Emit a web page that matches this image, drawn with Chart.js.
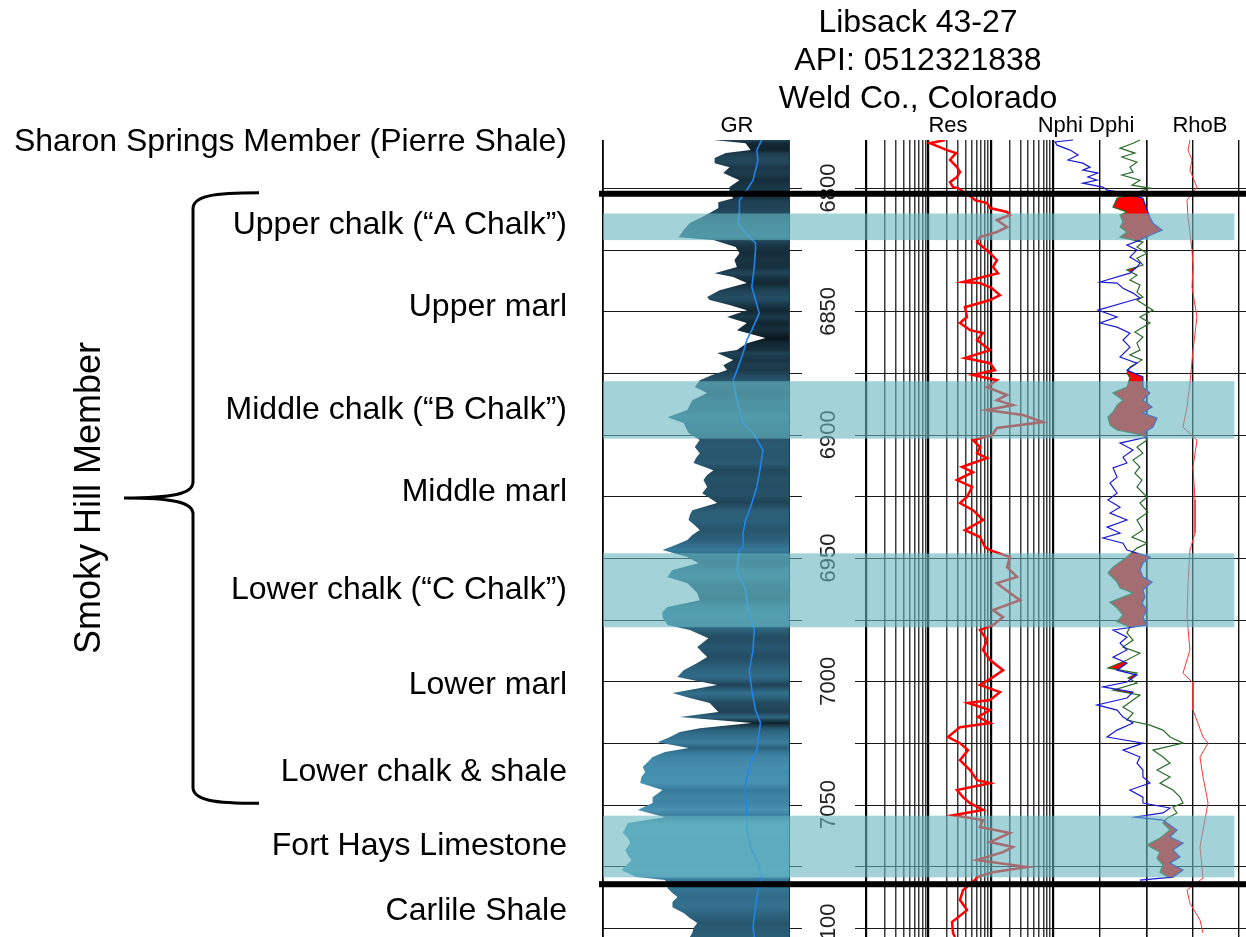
<!DOCTYPE html>
<html>
<head>
<meta charset="utf-8">
<title>Libsack 43-27 well log</title>
<script src="https://cdn.jsdelivr.net/npm/chart.js@4.4.1/dist/chart.umd.min.js"></script>
<style>
  html, body { margin: 0; padding: 0; background: #fff; }
  canvas { display: block; }
</style>
</head>
<body>
<canvas id="log" width="1246" height="937"></canvas>
<script>
// depth window (ft) and depth grid
const depthTop = 6780.5;
const depthBase = 7103.7;
const depthGrid = [6800, 6825, 6850, 6875, 6900, 6925, 6950, 6975, 7000, 7025, 7050, 7075, 7100];
const depthLabels = [6800, 6850, 6900, 6950, 7000, 7050, 7100];

// formation tops (thick lines) and chalk intervals (shaded bands)
const formationTops = [6802.3, 7082.3];
const chalkTop = [6810.3, 6878.3, 6948.1, 7054.5];
const chalkBase = [6821.1, 6901.6, 6978.1, 7079.5];

// track grid values
const grGrid = [0, 150];
const resGrid = [1, 2, 3, 4, 5, 6, 7, 8, 9, 10, 20, 30, 40, 50, 60, 70, 80, 90, 100, 200, 300, 400, 500, 600, 700, 800, 900, 1000];
const phiGrid = [0.45, 0.15, -0.15];
const rhoGrid = [1.95, 2.45, 2.95];

// gamma ray (API)
const grDepth = [6780.5, 6781.8, 6784.6, 6785.8, 6787.8, 6789.9, 6791.5, 6793.9, 6796.8, 6799.6,
  6802.0, 6804.1, 6805.7, 6808.1, 6810.1, 6812.2, 6814.2, 6817.0, 6819.9, 6821.1,
  6823.9, 6826.4, 6829.2, 6832.0, 6834.5, 6836.1, 6838.5, 6841.4, 6844.2, 6845.4,
  6847.4, 6849.5, 6852.3, 6854.7, 6857.6, 6860.8, 6862.9, 6865.7, 6866.9, 6869.7,
  6871.8, 6873.8, 6875.8, 6877.9, 6880.7, 6883.1, 6886.0, 6888.0, 6890.0, 6892.9,
  6895.3, 6897.3, 6899.3, 6902.2, 6905.0, 6907.5, 6909.5, 6911.5, 6914.4, 6916.4,
  6918.4, 6921.2, 6923.7, 6925.7, 6927.7, 6930.6, 6932.6, 6934.6, 6936.7, 6938.7,
  6940.7, 6942.7, 6944.8, 6946.8, 6949.6, 6952.1, 6954.9, 6957.7, 6960.2, 6962.2,
  6964.2, 6967.1, 6969.9, 6971.9, 6974.0, 6977.2, 6979.2, 6982.5, 6986.1, 6988.2,
  6990.2, 6992.6, 6995.5, 6998.3, 7001.5, 7004.8, 7006.8, 7008.8, 7012.5, 7014.5,
  7016.9, 7019.0, 7020.6, 7022.6, 7024.7, 7027.1, 7028.7, 7030.7, 7032.8, 7034.8,
  7036.8, 7038.8, 7041.3, 7044.1, 7047.0, 7049.4, 7052.2, 7055.1, 7057.5, 7059.5,
  7061.5, 7063.6, 7065.6, 7068.4, 7070.5, 7072.5, 7074.5, 7076.6, 7079.4, 7080.6,
  7082.2, 7083.9, 7085.9, 7087.5, 7089.5, 7091.6, 7094.0, 7096.0, 7098.0, 7100.1,
  7102.1, 7103.7];
const grValue = [89, 115, 119, 99, 90, 90, 102, 97, 110, 102,
  102, 105, 93, 93, 86, 78, 70, 65, 61, 89,
  107, 110, 106, 108, 90, 105, 116, 94, 84, 86,
  102, 116, 100, 116, 108, 131, 116, 108, 92, 105,
  97, 100, 88, 78, 74, 84, 72, 70, 68, 52,
  65, 67, 69, 78, 74, 78, 75, 73, 89, 84,
  81, 84, 80, 86, 92, 72, 70, 69, 74, 78,
  72, 68, 58, 48, 68, 77, 56, 52, 68, 72,
  76, 78, 52, 48, 48, 52, 70, 85, 76, 80,
  84, 76, 65, 60, 92, 56, 70, 86, 93, 62,
  120, 78, 62, 54, 44, 69, 50, 40, 36, 32,
  34, 31, 30, 48, 40, 40, 28, 50, 20, 18,
  16, 20, 22, 18, 20, 23, 19, 15, 27, 50,
  52, 52, 56, 60, 56, 56, 65, 70, 76, 73,
  72, 70];

// blue trace inside the GR track
const trendDepth = [6780.5, 6784.6, 6788.6, 6792.7, 6796.8, 6801.6, 6804.9, 6810.1, 6814.2, 6818.2,
  6822.3, 6825.1, 6832.0, 6840.1, 6845.4, 6850.7, 6857.6, 6861.6, 6866.9, 6872.6,
  6877.9, 6886.0, 6895.3, 6899.3, 6906.2, 6913.1, 6921.2, 6929.4, 6934.6, 6939.9,
  6945.6, 6946.8, 6954.9, 6963.0, 6971.1, 6979.2, 6987.3, 6995.5, 7003.6, 7011.7,
  7016.9, 7027.9, 7033.2, 7041.3, 7047.0, 7052.2, 7060.3, 7068.4, 7073.7, 7079.4,
  7084.7, 7091.6, 7099.7, 7103.7];
const trendValue = [128, 124, 125, 123, 121, 115, 110, 110, 109, 115,
  123, 123, 122, 120, 123, 126, 120, 116, 113, 109,
  105, 108, 113, 121, 129, 127, 124, 119, 115, 113,
  113, 110, 108, 115, 117, 122, 121, 118, 120, 123,
  127, 124, 119, 115, 115, 116, 116, 120, 125, 128,
  125, 123, 121, 122];

// resistivity (ohm-m)
const resDepth = [6780.5, 6781.8, 6784.6, 6785.8, 6788.6, 6791.5, 6793.5, 6795.5, 6797.6, 6799.6,
  6800.0, 6804.1, 6804.9, 6806.1, 6808.1, 6809.7, 6810.9, 6813.0, 6815.8, 6817.8,
  6819.9, 6821.9, 6823.9, 6826.4, 6829.2, 6832.0, 6834.5, 6838.1, 6838.5, 6840.6,
  6843.4, 6845.4, 6848.3, 6852.3, 6854.7, 6857.6, 6858.8, 6861.6, 6865.7, 6868.9,
  6871.0, 6873.8, 6875.8, 6877.9, 6880.7, 6883.9, 6886.0, 6888.0, 6890.0, 6892.0,
  6894.9, 6897.3, 6900.2, 6902.2, 6905.0, 6907.5, 6909.5, 6911.5, 6913.1, 6915.2,
  6918.4, 6921.2, 6925.3, 6927.7, 6930.6, 6934.6, 6938.7, 6941.5, 6945.6, 6946.8,
  6949.6, 6953.7, 6957.7, 6960.2, 6964.2, 6967.1, 6971.1, 6974.0, 6977.2, 6979.2,
  6983.3, 6987.3, 6991.4, 6995.5, 6998.3, 7001.5, 7004.4, 7007.6, 7008.8, 7011.7,
  7014.5, 7016.9, 7018.6, 7022.6, 7025.1, 7027.9, 7032.0, 7036.0, 7040.1, 7041.3,
  7044.1, 7047.0, 7049.4, 7052.2, 7054.3, 7056.3, 7059.1, 7061.5, 7065.2, 7067.2,
  7069.3, 7072.5, 7075.3, 7077.4, 7079.4, 7080.6, 7084.7, 7088.7, 7092.8, 7097.6,
  7102.1, 7103.7];
const resValue = [18.5, 10.6, 19.9, 27.8, 22.3, 28.8, 32.2, 28.8, 22.3, 24.9,
  29.9, 52.1, 56.1, 87.4, 97.6, 183, 204, 126, 183, 126,
  67.5, 60.4, 75.4, 97.6, 126, 109, 131, 36.0, 67.5, 105,
  141, 97.6, 38.7, 41.7, 32.2, 46.6, 75.4, 60.4, 97.6, 38.7,
  97.6, 117, 52.1, 126, 87.4, 183, 126, 228, 87.4, 330,
  691, 126, 105, 52.1, 67.5, 60.4, 87.4, 52.1, 34.7, 52.1,
  28.8, 50.2, 41.7, 32.2, 52.1, 75.4, 38.7, 67.5, 81.2, 97.6,
  204, 183, 265, 126, 204, 296, 109, 158, 109, 67.5,
  87.4, 75.4, 97.6, 158, 109, 67.5, 141, 97.6, 43.3, 97.6,
  62.7, 97.6, 32.2, 20.7, 32.2, 43.3, 32.2, 46.6, 60.4, 97.6,
  28.8, 36.0, 46.6, 75.4, 24.9, 75.4, 67.5, 204, 97.6, 228,
  158, 60.4, 383, 109, 60.4, 56.1, 36.0, 32.2, 41.7, 24.0,
  24.9, 26.8];

// neutron porosity (v/v)
const nphiDepth = [6780.5, 6781.3, 6782.6, 6784.6, 6786.6, 6788.6, 6789.9, 6791.5, 6792.7, 6793.9,
  6795.5, 6796.8, 6798.0, 6799.6, 6800.8, 6802.0, 6804.1, 6808.9, 6811.8, 6814.2,
  6817.0, 6819.1, 6821.1, 6823.1, 6825.1, 6828.0, 6830.4, 6832.0, 6834.5, 6838.1,
  6838.5, 6840.6, 6842.6, 6844.6, 6845.4, 6849.5, 6852.3, 6854.7, 6856.4, 6858.8,
  6861.6, 6864.5, 6868.5, 6871.0, 6873.8, 6876.6, 6880.7, 6883.1, 6886.0, 6888.8,
  6891.2, 6893.3, 6896.9, 6898.9, 6901.0, 6903.4, 6906.2, 6909.1, 6911.5, 6913.5,
  6917.2, 6919.6, 6923.7, 6926.5, 6929.4, 6931.8, 6934.6, 6937.5, 6939.9, 6941.9,
  6944.0, 6946.8, 6949.6, 6952.1, 6954.9, 6957.7, 6959.8, 6963.0, 6965.9, 6968.3,
  6971.1, 6974.0, 6977.2, 6979.2, 6982.1, 6984.5, 6987.3, 6990.2, 6992.6, 6995.5,
  6997.5, 7000.3, 7002.3, 7004.4, 7006.8, 7009.6, 7011.7, 7014.5, 7016.9, 7019.8,
  7022.6, 7025.1, 7027.9, 7030.7, 7033.2, 7036.0, 7038.8, 7041.3, 7044.1, 7047.0,
  7049.4, 7051.4, 7053.4, 7055.1, 7056.3, 7060.3, 7063.2, 7065.6, 7068.4, 7071.3,
  7073.7, 7076.6, 7079.4, 7080.6];
const nphiValue = [0.322, 0.437, 0.424, 0.341, 0.290, 0.354, 0.259, 0.214, 0.259, 0.163,
  0.227, 0.169, 0.259, 0.131, 0.105, -0.010, -0.124, -0.150, -0.169, -0.188,
  -0.246, -0.169, -0.105, -0.022, -0.086, -0.041, -0.105, -0.086, -0.041, 0.150,
  0.041, 0.003, -0.061, -0.105, -0.061, 0.163, 0.041, 0.150, 0.041, -0.041,
  0.003, -0.041, 0.022, -0.086, -0.022, -0.124, -0.124, -0.169, -0.124, -0.182,
  -0.124, -0.214, -0.188, -0.137, -0.150, 0.022, -0.061, 0.003, -0.022, 0.067,
  0.041, 0.086, 0.041, 0.099, 0.022, 0.086, -0.022, 0.105, 0.022, 0.131,
  0.003, -0.022, -0.169, -0.124, -0.105, -0.124, -0.182, -0.124, -0.137, -0.118,
  -0.150, -0.124, -0.150, 0.067, -0.022, 0.022, -0.022, 0.067, -0.022, 0.041,
  -0.086, -0.022, 0.131, -0.061, -0.022, 0.169, 0.041, 0.003, -0.061, 0.041,
  0.105, -0.124, 0.003, -0.105, -0.086, -0.124, -0.124, -0.169, -0.041, -0.124,
  -0.124, -0.297, -0.252, -0.073, -0.252, -0.341, -0.297, -0.380, -0.316, -0.361,
  -0.297, -0.380, -0.316, -0.105];

// density porosity (v/v)
const dphiDepth = [6780.5, 6781.8, 6783.8, 6785.8, 6787.4, 6789.5, 6791.5, 6793.5, 6794.7, 6796.8,
  6798.8, 6800.0, 6802.0, 6804.1, 6807.7, 6809.7, 6810.9, 6813.8, 6815.8, 6817.8,
  6819.9, 6821.9, 6823.9, 6826.4, 6828.4, 6831.2, 6833.2, 6835.3, 6837.3, 6839.3,
  6842.2, 6844.2, 6845.4, 6849.5, 6852.3, 6854.7, 6858.4, 6860.4, 6862.9, 6865.7,
  6867.7, 6869.7, 6872.6, 6875.0, 6877.0, 6880.7, 6883.1, 6886.0, 6888.0, 6890.8,
  6892.9, 6896.1, 6898.1, 6900.2, 6902.2, 6905.0, 6907.5, 6910.3, 6913.1, 6915.6,
  6918.4, 6921.2, 6925.3, 6927.7, 6931.4, 6934.6, 6938.7, 6941.5, 6944.0, 6946.0,
  6949.6, 6953.7, 6956.1, 6959.8, 6962.2, 6964.2, 6967.9, 6970.3, 6973.1, 6975.9,
  6978.0, 6980.4, 6983.3, 6986.1, 6988.6, 6991.4, 6994.6, 6996.7, 6998.7, 7000.7,
  7003.6, 7005.6, 7007.6, 7010.5, 7012.9, 7015.7, 7017.8, 7019.8, 7022.6, 7025.1,
  7027.9, 7030.7, 7033.2, 7036.0, 7038.8, 7041.3, 7044.1, 7047.0, 7049.4, 7051.0,
  7053.4, 7055.5, 7057.5, 7060.3, 7063.6, 7066.4, 7069.3, 7071.7, 7074.5, 7077.4,
  7079.8];
const dphiValue = [-0.105, -0.061, 0.022, -0.073, 0.010, -0.086, -0.041, -0.061, 0.010, -0.105,
  -0.054, -0.169, -0.073, 0.041, 0.067, -0.022, 0.022, 0.003, 0.022, -0.022,
  0.022, -0.124, -0.086, -0.150, -0.086, -0.124, -0.022, -0.086, -0.041, -0.105,
  -0.086, -0.124, -0.086, -0.188, -0.105, -0.169, -0.073, -0.124, -0.086, -0.105,
  -0.041, -0.118, -0.041, -0.022, -0.041, -0.022, 0.067, 0.003, 0.041, 0.067,
  0.099, 0.086, 0.041, -0.124, -0.150, -0.086, -0.124, -0.061, -0.105, -0.073,
  -0.118, -0.086, -0.150, -0.105, -0.156, -0.086, -0.124, -0.054, -0.150, -0.086,
  -0.022, 0.067, 0.099, 0.041, 0.022, -0.061, 0.086, 0.041, 0.003, 0.041,
  -0.041, -0.022, -0.061, 0.003, -0.105, -0.022, 0.099, -0.086, -0.029, -0.086,
  0.067, -0.105, -0.061, 0.003, -0.061, -0.022, -0.169, -0.252, -0.297, -0.380,
  -0.188, -0.252, -0.297, -0.214, -0.297, -0.233, -0.316, -0.361, -0.380, -0.316,
  -0.341, -0.278, -0.252, -0.297, -0.233, -0.150, -0.233, -0.214, -0.252, -0.233,
  -0.297];

// bulk density (g/cc)
const rhobDepth = [6780.5, 6784.6, 6788.6, 6792.7, 6796.8, 6799.6, 6804.9, 6811.8, 6818.2, 6825.1,
  6832.0, 6840.1, 6852.3, 6865.7, 6879.1, 6888.8, 6896.9, 6902.2, 6913.1, 6926.5,
  6939.9, 6946.8, 6960.2, 6974.0, 6987.3, 6996.7, 7000.7, 7011.7, 7022.6, 7025.1,
  7030.7, 7038.8, 7047.0, 7049.4, 7060.3, 7067.2, 7075.3, 7079.8, 7084.7, 7090.0,
  7096.8, 7102.1];
const rhobValue = [2.417, 2.396, 2.439, 2.417, 2.461, 2.493, 2.385, 2.396, 2.417, 2.439,
  2.450, 2.439, 2.493, 2.450, 2.417, 2.385, 2.341, 2.493, 2.450, 2.472,
  2.472, 2.417, 2.396, 2.385, 2.417, 2.341, 2.450, 2.450, 2.559, 2.613,
  2.526, 2.559, 2.602, 2.613, 2.559, 2.526, 2.548, 2.559, 2.385, 2.417,
  2.526, 2.559];

const FONT = '"Liberation Sans", Arial, sans-serif';

function pts(depths, values) {
  return depths.map((d, i) => ({ x: values[i], y: d }));
}

// colour of the GR shading: light blue for clean chalk, near black for shale
function grColour(v) {
  const stops = [[0, [86, 164, 196]], [0.3, [54, 120, 152]], [0.65, [33, 70, 90]], [1, [10, 22, 28]]];
  const t = Math.max(0, Math.min(1, (v - 15) / 115));
  let i = 0;
  while (i < stops.length - 2 && t > stops[i + 1][0]) i++;
  const [t0, c0] = stops[i], [t1, c1] = stops[i + 1];
  const f = (t - t0) / (t1 - t0);
  const c = c0.map((a, k) => Math.round(a + (c1[k] - a) * f));
  return `rgb(${c[0]},${c[1]},${c[2]})`;
}

function grShade(ctx) {
  const chart = ctx.chart;
  const area = chart.chartArea;
  if (!area) return '#2a5468';
  const y = chart.scales.y;
  const g = chart.ctx.createLinearGradient(0, area.top, 0, area.bottom);
  grDepth.forEach((d, i) => {
    const s = (y.getPixelForValue(d) - area.top) / (area.bottom - area.top);
    g.addColorStop(Math.max(0, Math.min(1, s)), grColour(grValue[i]));
  });
  return g;
}

function trackAxis(weight, extra) {
  return Object.assign({
    type: 'linear',
    position: 'top',
    stack: 'tracks',
    stackWeight: weight,
    bounds: 'data',
    border: { display: false },
    ticks: { display: false },
    grid: { color: '#111', lineWidth: 1.4, drawTicks: false }
  }, extra);
}

function setTicks(values) {
  return scale => { scale.ticks = values.map(v => ({ value: v })); };
}

const decades = [1, 10, 100, 1000];

const logDecor = {
  id: 'logDecor',
  beforeDatasetsDraw(chart) {
    const { ctx, chartArea: a, scales } = chart;
    const y = scales.y, gr = scales.xGR, res = scales.xRes, dep = scales.xDepth;
    ctx.save();
    // horizontal depth grid, broken across the depth column
    ctx.strokeStyle = '#1a1a1a';
    ctx.lineWidth = 1.2;
    depthGrid.forEach(d => {
      const py = Math.round(y.getPixelForValue(d)) + 0.5;
      ctx.beginPath();
      ctx.moveTo(gr.left, py); ctx.lineTo(gr.right + 13, py);
      ctx.moveTo(res.left - 11, py); ctx.lineTo(a.right, py);
      ctx.stroke();
    });
    // depth numbers
    ctx.fillStyle = '#222';
    ctx.font = '22px ' + FONT;
    ctx.textAlign = 'center';
    ctx.textBaseline = 'middle';
    const cx = (dep.left + dep.right) / 2;
    depthLabels.forEach(d => {
      ctx.save();
      ctx.translate(cx, y.getPixelForValue(d));
      ctx.rotate(-Math.PI / 2);
      ctx.fillText(String(d), 0, 1);
      ctx.restore();
    });
    // red crossover shading where Dphi sits left of Nphi
    const n = chart.getDatasetMeta(3).data, p = chart.getDatasetMeta(4).data;
    ctx.beginPath();
    ctx.rect(a.left, a.top, a.right - a.left, a.bottom - a.top);
    ctx.clip();
    ctx.beginPath();
    ctx.moveTo(a.left, n[0].y);
    n.forEach(e => ctx.lineTo(e.x, e.y));
    ctx.lineTo(a.left, n[n.length - 1].y);
    ctx.closePath();
    ctx.clip();
    ctx.beginPath();
    ctx.moveTo(a.right, p[0].y);
    p.forEach(e => ctx.lineTo(e.x, e.y));
    ctx.lineTo(a.right, p[p.length - 1].y);
    ctx.closePath();
    ctx.fillStyle = '#ff0000';
    ctx.fill();
    ctx.restore();
  },
  afterDatasetsDraw(chart) {
    const { ctx, chartArea: a, scales } = chart;
    const y = scales.y, rho = scales.xRho;
    ctx.save();
    // chalk bands
    ctx.fillStyle = 'rgba(102,182,190,0.6)';
    chalkTop.forEach((t, i) => {
      const y0 = y.getPixelForValue(t), y1 = y.getPixelForValue(chalkBase[i]);
      ctx.fillRect(a.left, y0, rho.getPixelForValue(2.9) - a.left, y1 - y0);
    });
    // formation tops
    ctx.fillStyle = '#000';
    formationTops.forEach(t => {
      const py = y.getPixelForValue(t);
      ctx.fillRect(a.left - 4, py - 3, a.right - a.left + 4, 6);
    });
    ctx.restore();
  },
  afterDraw(chart) {
    const { ctx, scales } = chart;
    const y = scales.y;
    ctx.save();
    ctx.fillStyle = '#000';
    ctx.textBaseline = 'middle';
    // well header
    ctx.textAlign = 'center';
    ctx.font = '32px ' + FONT;
    ctx.fillText('Libsack 43-27', 918, 23);
    ctx.fillText('API: 0512321838', 918, 61);
    ctx.fillText('Weld Co., Colorado', 918, 99);
    // track headers
    ctx.font = '22px ' + FONT;
    ctx.fillText('GR', 737, 126);
    ctx.fillText('Res', 948, 126);
    ctx.fillText('Nphi Dphi', 1086, 126);
    ctx.fillText('RhoB', 1200, 126);
    // stratigraphic names
    ctx.textAlign = 'right';
    ctx.font = '32px ' + FONT;
    const names = [
      ['Sharon Springs Member (Pierre Shale)', 142],
      ['Upper chalk (\u201cA Chalk\u201d)', 225],
      ['Upper marl', 307],
      ['Middle chalk (\u201cB Chalk\u201d)', 410],
      ['Middle marl', 492],
      ['Lower chalk (\u201cC Chalk\u201d)', 590],
      ['Lower marl', 685],
      ['Lower chalk & shale', 772],
      ['Fort Hays Limestone', 846],
      ['Carlile Shale', 911]
    ];
    names.forEach(([t, py]) => ctx.fillText(t, 567, py));
    // brace for the Smoky Hill Member
    const top = y.getPixelForValue(formationTops[0]) - 1;
    const bot = y.getPixelForValue(7049.5);
    const mid = (top + bot) / 2;
    ctx.strokeStyle = '#000';
    ctx.lineWidth = 3;
    ctx.beginPath();
    ctx.moveTo(259, top);
    ctx.bezierCurveTo(214, top, 193, top + 3, 193, top + 16);
    ctx.lineTo(193, mid - 16);
    ctx.bezierCurveTo(193, mid - 4, 172, mid, 124, mid);
    ctx.bezierCurveTo(172, mid, 193, mid + 4, 193, mid + 16);
    ctx.lineTo(193, bot - 16);
    ctx.bezierCurveTo(193, bot - 3, 214, bot, 259, bot);
    ctx.stroke();
    ctx.save();
    ctx.translate(90, mid);
    ctx.rotate(-Math.PI / 2);
    ctx.textAlign = 'center';
    ctx.font = '36px ' + FONT;
    ctx.fillText('Smoky Hill Member', 0, 0);
    ctx.restore();
    ctx.restore();
  }
};

new Chart(document.getElementById('log'), {
  type: 'line',
  data: {
    datasets: [
      { label: 'GR trace', data: pts(trendDepth, trendValue), xAxisID: 'xGR',
        borderColor: '#1f84ec', borderWidth: 1.6, order: 1 },
      { label: 'GR', data: pts(grDepth, grValue), xAxisID: 'xGR',
        borderColor: 'rgba(0,0,0,0)', borderWidth: 0, fill: { value: 150 },
        backgroundColor: grShade, order: 2 },
      { label: 'Res', data: pts(resDepth, resValue), xAxisID: 'xRes',
        borderColor: '#ff0000', borderWidth: 2.5, order: 1 },
      // porosity and density curves spill over their track edges, so no clipping
      { label: 'Nphi', data: pts(nphiDepth, nphiValue), xAxisID: 'xPhi', clip: false,
        borderColor: '#1a1ad0', borderWidth: 1.2, order: 1 },
      { label: 'Dphi', data: pts(dphiDepth, dphiValue), xAxisID: 'xPhi', clip: false,
        borderColor: '#2b6b2b', borderWidth: 1.2, order: 1 },
      { label: 'RhoB', data: pts(rhobDepth, rhobValue), xAxisID: 'xRho', clip: false,
        borderColor: '#ff3434', borderWidth: 1, order: 1 }
    ]
  },
  options: {
    indexAxis: 'y',
    responsive: false,
    animation: false,
    devicePixelRatio: 1,
    events: [],
    layout: { padding: { left: 603, top: 140, right: 0, bottom: 0 } },
    elements: { point: { radius: 0 }, line: { tension: 0 } },
    plugins: { legend: { display: false }, tooltip: { enabled: false }, title: { display: false } },
    // stacked top axes are laid out in reverse order, so the rightmost track comes first
    scales: {
      y: { type: 'linear', reverse: true, min: depthTop, max: depthBase, display: false },
      xRho: trackAxis(99, { min: 1.95, max: 3.026, afterBuildTicks: setTicks(rhoGrid) }),
      xPhi: trackAxis(94, { min: -0.15, max: 0.45, reverse: true, afterBuildTicks: setTicks(phiGrid) }),
      xRes: trackAxis(187, { type: 'logarithmic', min: 1, max: 1000, afterBuildTicks: setTicks(resGrid),
        grid: {
          drawTicks: false,
          color: c => decades.includes(c.tick && c.tick.value) ? '#000' : '#3a3a3a',
          lineWidth: c => decades.includes(c.tick && c.tick.value) ? 2.2 : 1.5
        } }),
      xDepth: trackAxis(77, { min: 0, max: 1, grid: { display: false, drawTicks: false } }),
      xGR: trackAxis(186, { min: 0, max: 150, afterBuildTicks: setTicks(grGrid),
        grid: { color: '#000', lineWidth: 1.8, drawTicks: false } })
    }
  },
  plugins: [logDecor]
});
</script>
</body>
</html>
